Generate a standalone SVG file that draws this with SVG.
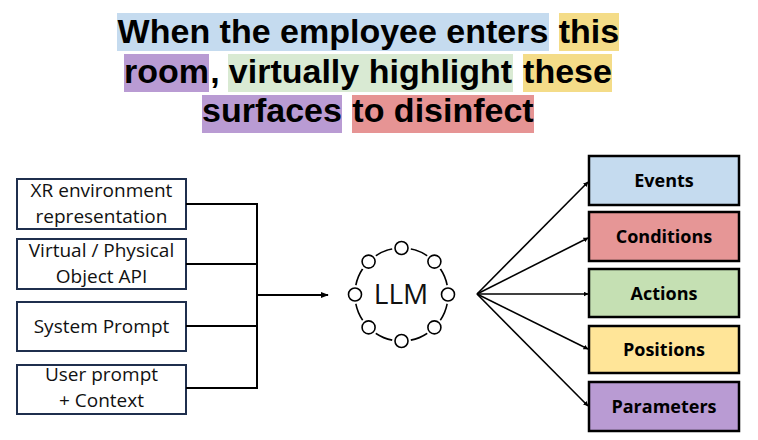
<svg xmlns="http://www.w3.org/2000/svg" width="758" height="440" viewBox="0 0 758 440">
<defs>
<style>
.title{font-family:"Liberation Sans",Arial,sans-serif;font-weight:bold;font-size:34px;fill:#000;text-anchor:middle}
.in{fill:#fff;stroke:#1f2f4d;stroke-width:2}
.inl{font-family:"Open Sans","Noto Sans",sans-serif;font-size:19px;fill:#111;text-anchor:middle}
.out{stroke:#000;stroke-width:2.5}
.outl{font-family:"Open Sans","Noto Sans",sans-serif;font-weight:bold;font-size:18px;fill:#000;text-anchor:middle}
.con{fill:none;stroke:#000;stroke-width:2}
.con2{fill:none;stroke:#000;stroke-width:1.6}
.node{fill:#fff;stroke:#000;stroke-width:1.6}
</style>
<marker id="ah" viewBox="0 0 10 10" refX="9" refY="5" markerWidth="5" markerHeight="5" orient="auto" markerUnits="userSpaceOnUse">
<path d="M0,0 L10,5 L0,10 z" fill="#000"/>
</marker>
<marker id="ah2" viewBox="0 0 10 10" refX="9" refY="5" markerWidth="8" markerHeight="8" orient="auto" markerUnits="userSpaceOnUse">
<path d="M0,1 L10,5 L0,9 z" fill="#000"/>
</marker>
</defs>
<rect width="758" height="440" fill="#fff"/>

<g id="title">
<rect x="117" y="13" width="432" height="38" fill="#c5dbef"/>
<rect x="559" y="13" width="60" height="38" fill="#f4dc88"/>
<rect x="124" y="54" width="85" height="38" fill="#b99bd3"/>
<rect x="228" y="54" width="285" height="38" fill="#d9ead3"/>
<rect x="523" y="54" width="89" height="38" fill="#f4dc88"/>
<rect x="202" y="95" width="140" height="38" fill="#b99bd3"/>
<rect x="352" y="95" width="182" height="38" fill="#e69494"/>
<text class="title" x="333" y="43">When the employee enters</text>
<text class="title" x="589" y="43">this</text>
<text class="title" x="166.5" y="83">room</text>
<text class="title" x="215" y="83">,</text>
<text class="title" x="370.5" y="83">virtually highlight</text>
<text class="title" x="567.5" y="83">these</text>
<text class="title" x="272" y="122">surfaces</text>
<text class="title" x="443" y="122">to disinfect</text>
</g>

<g id="in1"><rect class="in" x="17" y="179" width="169" height="50"/>
<text class="inl" x="101.5" y="197">XR environment</text><text class="inl" x="101.5" y="223">representation</text></g>
<g id="in2"><rect class="in" x="17" y="239" width="169" height="50"/>
<text class="inl" x="101.5" y="257">Virtual / Physical</text><text class="inl" x="101.5" y="283">Object API</text></g>
<g id="in3"><rect class="in" x="17" y="302" width="169" height="49"/>
<text class="inl" x="101.5" y="333">System Prompt</text></g>
<g id="in4"><rect class="in" x="17" y="365" width="169" height="49"/>
<text class="inl" x="101.5" y="381">User prompt</text><text class="inl" x="101.5" y="407">+ Context</text></g>

<g id="llm">
<circle cx="401.5" cy="294.5" r="46.5" fill="none" stroke="#000" stroke-width="1.6"/>
<g fill="#fff">
<circle cx="401.5" cy="248" r="9.5"/><circle cx="434.4" cy="261.6" r="9.5"/><circle cx="448" cy="294.5" r="9.5"/><circle cx="434.4" cy="327.4" r="9.5"/>
<circle cx="401.5" cy="341" r="9.5"/><circle cx="368.6" cy="327.4" r="9.5"/><circle cx="355" cy="294.5" r="9.5"/><circle cx="368.6" cy="261.6" r="9.5"/>
</g>
<circle class="node" cx="401.5" cy="248" r="6.5"/><circle class="node" cx="434.4" cy="261.6" r="6.5"/><circle class="node" cx="448" cy="294.5" r="6.5"/><circle class="node" cx="434.4" cy="327.4" r="6.5"/>
<circle class="node" cx="401.5" cy="341" r="6.5"/><circle class="node" cx="368.6" cy="327.4" r="6.5"/><circle class="node" cx="355" cy="294.5" r="6.5"/><circle class="node" cx="368.6" cy="261.6" r="6.5"/>
<text x="401" y="304" font-family="'Open Sans','Noto Sans',sans-serif" font-size="28" fill="#111" text-anchor="middle">LLM</text>
</g>

<g id="out1"><rect class="out" x="589" y="156" width="150" height="49" fill="#c5dbef"/><text class="outl" x="664" y="187">Events</text></g>
<g id="out2"><rect class="out" x="589" y="212" width="150" height="49" fill="#e69696"/><text class="outl" x="664" y="243">Conditions</text></g>
<g id="out3"><rect class="out" x="589" y="269" width="150" height="48" fill="#c5e0b3"/><text class="outl" x="664" y="300">Actions</text></g>
<g id="out4"><rect class="out" x="589" y="326" width="150" height="47" fill="#ffe598"/><text class="outl" x="664" y="356">Positions</text></g>
<g id="out5"><rect class="out" x="589" y="382" width="150" height="49" fill="#b99bd3"/><text class="outl" x="664" y="413">Parameters</text></g>

<g id="connectors">
<path class="con" d="M186,204 H257 M186,264 H257 M186,326 H257 M186,388 H257 M257,203 V389"/>
<path class="con" d="M257,295 H328" marker-end="url(#ah2)"/>
<path class="con2" d="M477,294 L588,182" marker-end="url(#ah)"/>
<path class="con2" d="M477,294 L588,238" marker-end="url(#ah)"/>
<path class="con2" d="M477,294 L588,294" marker-end="url(#ah)"/>
<path class="con2" d="M477,294 L588,349" marker-end="url(#ah)"/>
<path class="con2" d="M477,294 L588,406" marker-end="url(#ah)"/>
</g>
</svg>
